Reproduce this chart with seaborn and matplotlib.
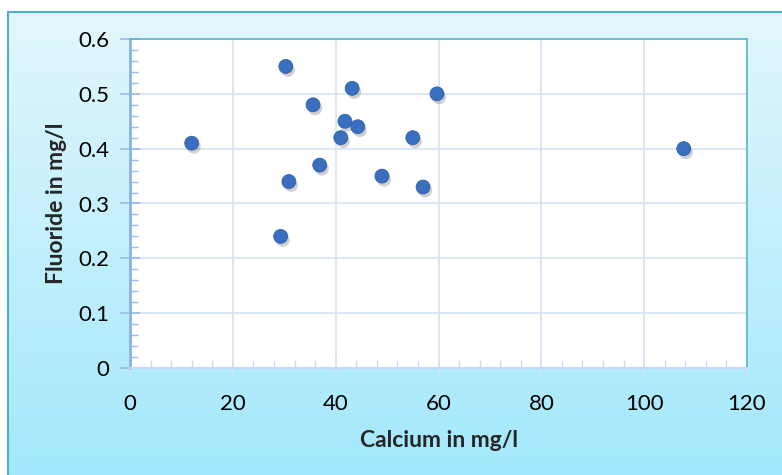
import numpy as np
import pandas as pd
import matplotlib
matplotlib.use("Agg")
import matplotlib.pyplot as plt
import matplotlib.patheffects as pe
from matplotlib.ticker import MultipleLocator, FuncFormatter
import seaborn as sns

# calcium vs fluoride readings (mg/l)
calcium = [12, 30.3, 30.9, 29.3, 35.6, 36.9, 41.0, 41.8, 43.2, 44.3, 49.0, 55.0, 57.0, 59.7, 107.7]
fluoride = [0.41, 0.55, 0.34, 0.24, 0.48, 0.37, 0.42, 0.45, 0.51, 0.44, 0.35, 0.42, 0.33, 0.50, 0.40]

df = pd.DataFrame({"Calcium": calcium, "Fluoride": fluoride})

sns.set_style("white")
plt.rcParams["font.family"] = ["Lato", "DejaVu Sans"]

fig = plt.figure(figsize=(7.82, 4.75), dpi=100)

# gradient background panel (chart area frame)
bg = fig.add_axes([8 / 782, 0, 1 - 8 / 782, 1 - 12 / 475], zorder=-5)
grad = np.linspace(0, 1, 256).reshape(-1, 1)
cmap = matplotlib.colors.LinearSegmentedColormap.from_list("bg", ["#e2f7fd", "#a3e8fc"])
bg.imshow(grad, aspect="auto", cmap=cmap, extent=[0, 1, 0, 1])
bg.set_xticks([])
bg.set_yticks([])
for side in ["top", "left"]:
    bg.spines[side].set_color("#4fb0c6")
    bg.spines[side].set_linewidth(1.5)
bg.spines["right"].set_visible(False)
bg.spines["bottom"].set_visible(False)

ax = fig.add_axes([130 / 782, 1 - 368 / 475, 617 / 782, 329 / 475])
ax.set_facecolor("white")

sns.scatterplot(data=df, x="Calcium", y="Fluoride", ax=ax, s=100,
                color="#3a6fbf", edgecolor="#2f5fa8", linewidth=0.6, zorder=3,
                path_effects=[pe.SimplePatchShadow(offset=(1.5, -2.5), shadow_rgbFace="#888888", alpha=0.4),
                              pe.Normal()])

ax.set_xlim(0, 120)
ax.set_ylim(0, 0.6)
ax.xaxis.set_major_locator(MultipleLocator(20))
ax.xaxis.set_minor_locator(MultipleLocator(4))
ax.yaxis.set_major_locator(MultipleLocator(0.1))
ax.yaxis.set_minor_locator(MultipleLocator(0.02))
ax.xaxis.set_major_formatter(FuncFormatter(lambda v, p: f"{v:g}"))
ax.yaxis.set_major_formatter(FuncFormatter(lambda v, p: f"{v:g}"))

ax.grid(True, which="major", color="#d5e3f4", linewidth=1.2)
ax.set_axisbelow(True)

ax.tick_params(axis="both", which="both", bottom=True, left=True, top=False, right=False)
ax.tick_params(axis="both", which="major", direction="inout", length=14, width=1.2,
               color="#9dbce6", labelsize=16, labelcolor="black")
ax.tick_params(axis="x", which="major", pad=12, color="#d5e3f4")
ax.tick_params(axis="y", which="major", pad=8)
ax.tick_params(axis="both", which="minor", direction="in", length=6, width=1, color="#9dbce6")
ax.tick_params(axis="x", which="minor", color="#c7d8ef")

ax.spines["left"].set_color("#8ab2e6")
ax.spines["left"].set_linewidth(2)
ax.spines["bottom"].set_color("#c7d8ef")
ax.spines["bottom"].set_linewidth(1.5)
ax.spines["top"].set_color("#5ab4c8")
ax.spines["top"].set_linewidth(1.2)
ax.spines["right"].set_color("#5ab4c8")
ax.spines["right"].set_linewidth(1.2)

ax.set_xlabel("Calcium in mg/l", fontsize=16.5, fontweight="bold", labelpad=11)
ax.set_ylabel("Fluoride in mg/l", fontsize=16.5, fontweight="bold", labelpad=8)

fig.savefig("out.png", dpi=100)
